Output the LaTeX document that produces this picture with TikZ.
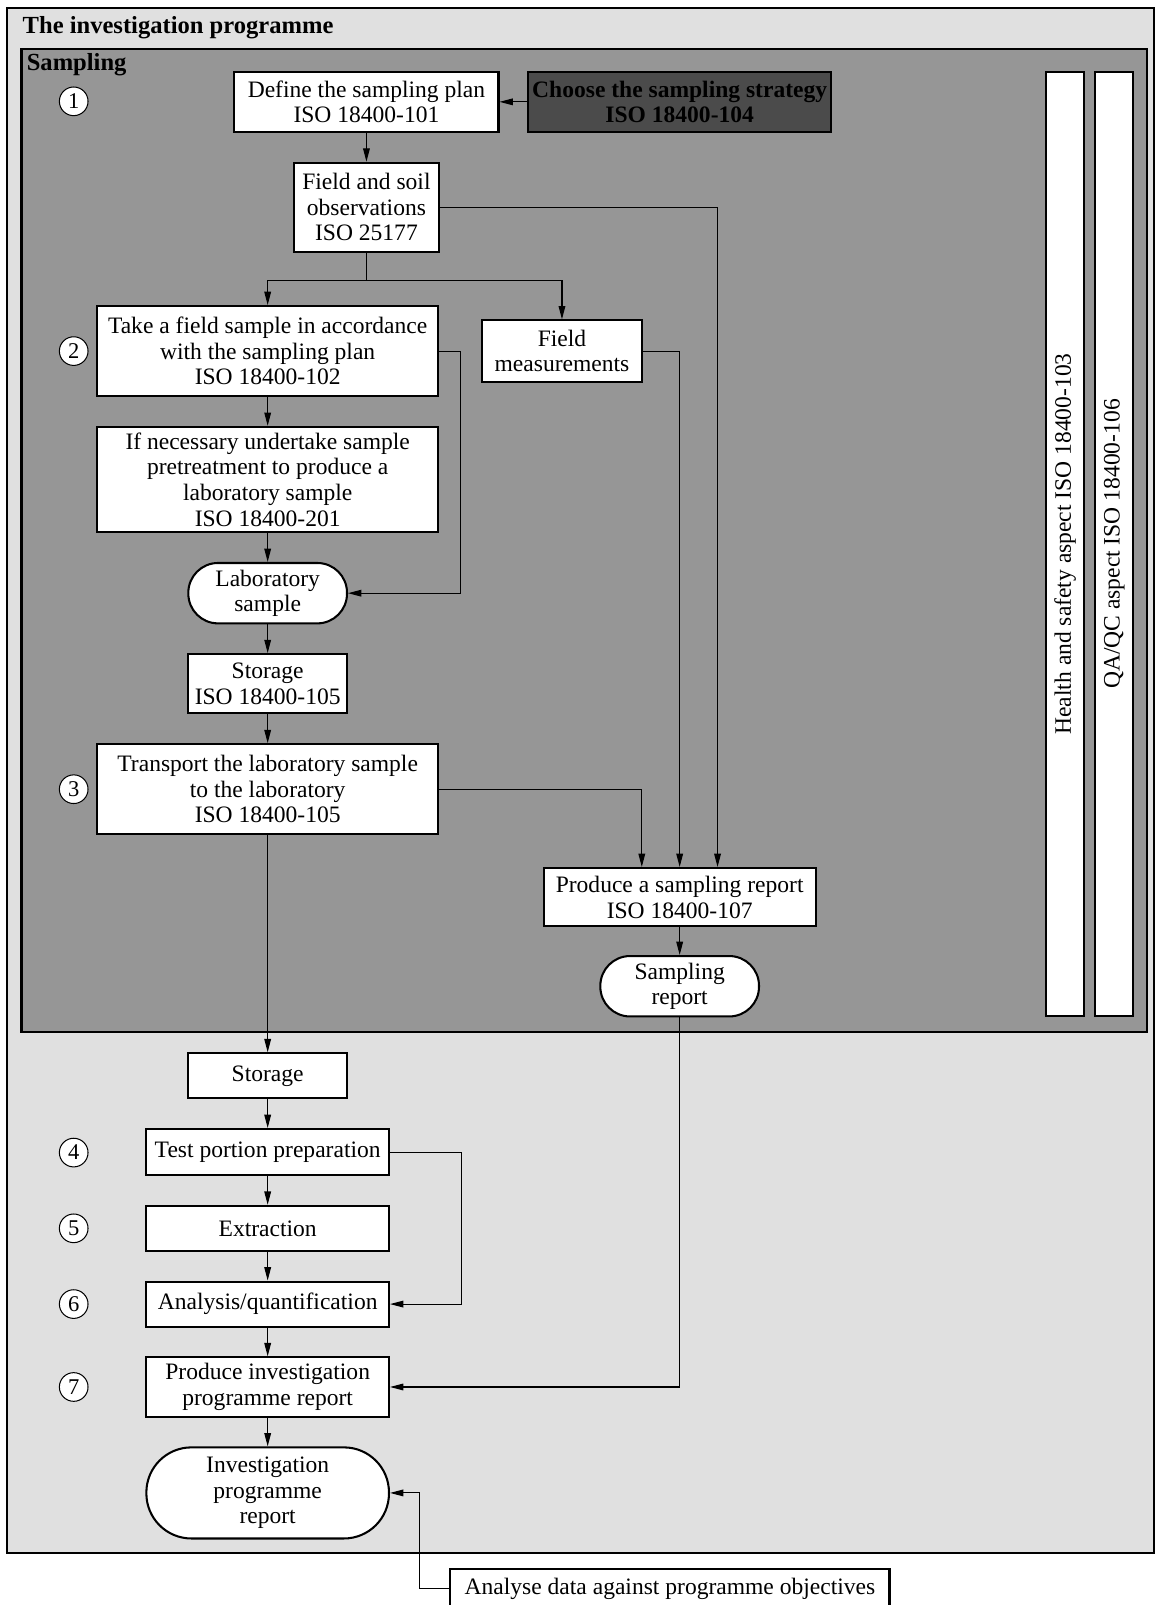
\documentclass[tikz,border=0pt]{standalone}
\usepackage{fontspec}
\setmainfont{Liberation Serif}
\usetikzlibrary{arrows.meta}
\definecolor{outerbg}{HTML}{E0E0E0}
\definecolor{sampbg}{HTML}{969696}
\definecolor{darkbox}{HTML}{4B4B4B}
\newcommand\mainfs{\fontsize{23}{25}\selectfont}
\newcommand\titlefs{\fontsize{24}{26}\selectfont}
\newcommand\numfs{\fontsize{22}{22}\selectfont}
\begin{document}
\begin{tikzpicture}[x=1pt,y=-1pt,
  box/.style={draw, fill=white, line width=2pt, inner sep=0pt, align=center, font=\mainfs},
  conn/.style={line width=1.1pt, -{Triangle[length=13pt,width=6.5pt]}},
  plain/.style={line width=1.1pt},
  num/.style={circle, draw, fill=white, line width=1pt, minimum size=28pt, inner sep=0pt, font=\numfs},
  bar/.style={draw, fill=white, line width=2pt, inner sep=0pt, minimum width=37pt, minimum height=923pt},
  frame/.style={draw, line width=2pt}]
\useasboundingbox (0,0) rectangle (1128,1568);
% frames
\path[frame, fill=outerbg] (7,8) rectangle (1127.5,1517);
\node[anchor=west, font=\titlefs\bfseries, inner sep=0pt] (ttl) at (22,27) {The investigation programme};
\path[frame, fill=sampbg] (21,48) rectangle (1121,1008);
\node[anchor=west, font=\titlefs\bfseries, inner sep=0pt] (smp) at (26,63) {Sampling};
% numbers
\node[num] (n1) at (72,99) {1};
\node[num] (n2) at (72,343) {2};
\node[num] (n3) at (72,771) {3};
\node[num] (n4) at (72,1126) {4};
\node[num] (n5) at (72,1200) {5};
\node[num] (n6) at (72,1274) {6};
\node[num] (n7) at (72,1355) {7};
% boxes
\node[box, minimum width=258pt, minimum height=59pt] (def) at (358,99.5) {Define the sampling plan\\ISO 18400-101};
\node[box, fill=darkbox, font=\mainfs\bfseries, minimum width=296pt, minimum height=59pt] (cho) at (664,99.5) {Choose the sampling strategy\\ISO 18400-104};
\node[box, minimum width=142pt, minimum height=87pt] (fso) at (358,202.5) {Field and soil\\observations\\ISO 25177};
\node[box, minimum width=333pt, minimum height=88pt] (take) at (261.5,343) {Take a field sample in accordance\\with the sampling plan\\ISO 18400-102};
\node[box, minimum width=156pt, minimum height=60pt] (fm) at (549,343) {Field\\measurements};
\node[box, minimum width=333pt, minimum height=103pt] (ifn) at (261.5,468.5) {If necessary undertake sample\\pretreatment to produce a\\laboratory sample\\ISO 18400-201};
\node[box, rounded corners=29pt, minimum width=155pt, minimum height=59pt] (lab) at (261.5,579.5) {Laboratory\\sample};
\node[box, minimum width=155pt, minimum height=58pt] (sto1) at (261.5,668) {Storage\\ISO 18400-105};
\node[box, minimum width=333pt, minimum height=88pt] (tra) at (261.5,771) {Transport the laboratory sample\\to the laboratory\\ISO 18400-105};
\node[box, minimum width=266pt, minimum height=57pt] (prod) at (664,876.5) {Produce a sampling report\\ISO 18400-107};
\node[box, rounded corners=29pt, minimum width=155pt, minimum height=59pt] (srep) at (664,963.5) {Sampling\\report};
\node[box, minimum width=155pt, minimum height=44pt] (sto2) at (261.5,1051) {Storage};
\node[box, minimum width=237pt, minimum height=45pt] (test) at (261.5,1125.5) {Test portion preparation};
\node[box, minimum width=237pt, minimum height=44pt] (ext) at (261.5,1200) {Extraction};
\node[box, minimum width=237pt, minimum height=44pt] (ana) at (261.5,1274) {Analysis/quantification};
\node[box, minimum width=237pt, minimum height=58pt] (pir) at (261.5,1355) {Produce investigation\\programme report};
\node[box, rounded corners=44pt, minimum width=237pt, minimum height=89pt] (irep) at (261.5,1458.5) {Investigation\\programme\\report};
\node[box, minimum width=429pt, minimum height=38pt, anchor=north west] (ad) at (439,1532) {Analyse data against programme objectives};
% side bars
\node[bar] (hs) at (1040.5,531.5) {};
\node[rotate=90, font=\mainfs, inner sep=0pt] (hst) at (hs.center) {Health and safety aspect ISO 18400-103};
\node[bar] (qa) at (1088.5,531.5) {};
\node[rotate=90, font=\mainfs, inner sep=0pt] (qat) at (qa.center) {QA/QC aspect ISO 18400-106};
% connectors
\draw[conn] (cho.west) -- (def.east);
\draw[conn] (def.south) -- (fso.north);
\draw[plain] (fso.south) -- ++(0,27) coordinate (j1);
\draw[conn] (j1) -| (take.north);
\draw[conn] (j1) -| (fm.north);
\draw[conn] (fso.east) -| ([xshift=37pt]prod.north);
\draw[conn] (fm.east) -| (prod.north);
\draw[conn] (tra.east) -| ([xshift=-37pt]prod.north);
\draw[conn] (take.east) -- ++(21,0) |- (lab.east);
\draw[conn] (take.south) -- (ifn.north);
\draw[conn] (ifn.south) -- (lab.north);
\draw[conn] (lab.south) -- (sto1.north);
\draw[conn] (sto1.south) -- (tra.north);
\draw[conn] (tra.south) -- (sto2.north);
\draw[conn] (prod.south) -- (srep.north);
\draw[conn] (sto2.south) -- (test.north);
\draw[conn] (test.south) -- (ext.north);
\draw[conn] (ext.south) -- (ana.north);
\draw[conn] (ana.south) -- (pir.north);
\draw[conn] (pir.south) -- (irep.north);
\draw[conn] (test.east) -- ++(70,0) |- (ana.east);
\draw[conn] (srep.south) |- (pir.east);
\draw[conn] (ad.west) -- ++(-29,0) |- (irep.east);
\end{tikzpicture}
\end{document}
